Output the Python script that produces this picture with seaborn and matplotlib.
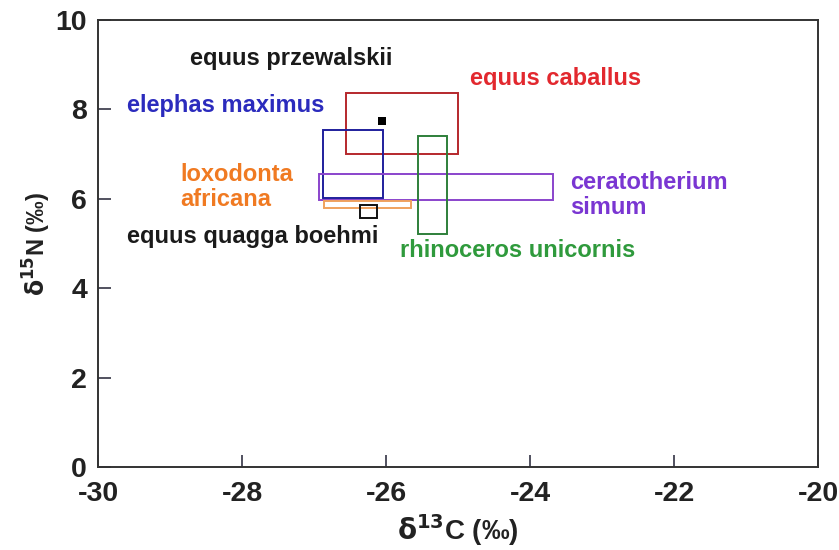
import matplotlib
matplotlib.use("Agg")
import matplotlib.pyplot as plt
from matplotlib.patches import Rectangle
import seaborn as sns
import pandas as pd

# Isotope ranges (delta13C, delta15N) per species: [min, max]
species = ["equus caballus", "elephas maximus", "ceratotherium simum",
           "loxodonta africana", "equus quagga boehmi", "rhinoceros unicornis"]
c13_min = [-26.55, -26.88, -26.93, -26.86, -26.36, -25.55]
c13_max = [-25.00, -26.04, -23.68, -25.65, -26.13, -25.15]
n15_min = [7.00, 6.01, 5.97, 5.79, 5.56, 5.21]
n15_max = [8.37, 7.53, 6.55, 5.96, 5.86, 7.40]
box_colors = ["#b5282c", "#1f1f9c", "#8a44cc", "#f0a25e", "#111111", "#2e7f3a"]

# Single measurement
point_name = ["equus przewalskii"]
point_c13 = [-26.06]
point_n15 = [7.73]

# Species labels
label_text = ["equus przewalskii", "equus caballus", "elephas maximus",
              "loxodonta\nafricana", "equus quagga boehmi",
              "ceratotherium\nsimum", "rhinoceros unicornis"]
label_x = [-27.32, -23.65, -28.22, -28.86, -27.85, -23.44, -24.17]
label_y = [9.15, 8.70, 8.08, 6.26, 5.15, 6.09, 4.85]
label_ha = ["center", "center", "center", "left", "center", "left", "center"]
label_colors = ["#1a1a1a", "#e2282e", "#2b2bbd", "#f07a22", "#1a1a1a",
                "#7a36d2", "#2f9a3c"]

x_ticks = [-30, -28, -26, -24, -22, -20]
y_ticks = [0, 2, 4, 6, 8, 10]

sns.set_theme(style="ticks")
plt.rcParams["font.family"] = ["Liberation Sans", "DejaVu Sans"]

fig = plt.figure(figsize=(8.39, 5.5), dpi=100)
ax = fig.add_axes([0.1168, 0.1509, 0.975 - 0.1168, 0.9636 - 0.1509])

for x0, x1, y0, y1, col in zip(c13_min, c13_max, n15_min, n15_max, box_colors):
    ax.add_patch(Rectangle((x0, y0), x1 - x0, y1 - y0, fill=False,
                           edgecolor=col, linewidth=1.4, zorder=3))

pts = pd.DataFrame({"c13": point_c13, "n15": point_n15, "species": point_name})
sns.scatterplot(data=pts, x="c13", y="n15", ax=ax, marker="s", s=30,
                color="black", edgecolor="black", linewidth=0, zorder=4,
                legend=False)

for txt, x, y, ha, col in zip(label_text, label_x, label_y, label_ha, label_colors):
    ax.text(x, y, txt, ha=ha, va="center", color=col, fontsize=17,
            fontweight="bold", linespacing=1.12, zorder=5)

ax.set_xlim(-30, -20)
ax.set_ylim(0, 10)
ax.set_xticks(x_ticks)
ax.set_yticks(y_ticks)
ax.set_xticklabels([str(v) for v in x_ticks], fontweight="bold",
                   fontsize=20.5, color="#222222")
ax.set_yticklabels([str(v) for v in y_ticks], fontweight="bold",
                   fontsize=20.5, color="#222222")
ax.tick_params(direction="in", length=9, width=1.2, color="#333344", pad=8)
ax.tick_params(axis="x", pad=10)
for side in ["top", "right", "left", "bottom"]:
    ax.spines[side].set_visible(True)
    ax.spines[side].set_color("#333333")
    ax.spines[side].set_linewidth(1.4)

ax.set_xlabel(r"$\mathbf{\delta}^{\mathbf{13}}$C (‰)", fontweight="bold",
              fontsize=20, color="#222222", labelpad=4)
ax.set_ylabel(r"$\mathbf{\delta}^{\mathbf{15}}$N (‰)", fontweight="bold",
              fontsize=17, color="#222222", labelpad=2)

fig.savefig("out.png", dpi=100, facecolor="white")
